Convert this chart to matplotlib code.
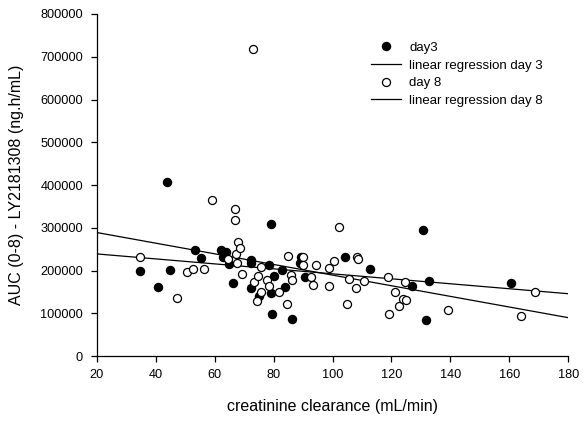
import matplotlib
matplotlib.use("Agg")
import matplotlib.pyplot as plt
from matplotlib.ticker import FuncFormatter

plt.rcParams['font.family'] = ['Liberation Sans', 'DejaVu Sans']

# day 3 data (creatinine clearance, AUC in ng.h/mL)
x_day3 = [34.6, 40.6, 43.7, 44.8, 53.2, 55.4, 62.0, 62.7, 63.8, 64.7, 66.1,
          72.2, 72.4, 72.2, 75.0, 78.5, 79.1, 80.1, 79.1, 79.4, 82.8, 83.9,
          86.2, 89.0, 89.2, 90.7, 104.2, 112.8, 127.1, 130.7, 131.6, 132.9, 160.7]
y_day3 = [200000, 161000, 407000, 201000, 249000, 229000, 249000, 231000, 244000,
          215000, 171000, 217000, 225000, 160000, 140000, 212000, 309000, 187000,
          148000, 98000, 201000, 162000, 87000, 217000, 231000, 184000, 232000,
          204000, 164000, 294000, 84000, 175000, 172000]

# day 8 data
x_day8 = [34.6, 47.1, 50.5, 52.5, 56.2, 59.1, 64.4, 66.9, 67.0, 67.2, 67.6, 67.9,
          68.7, 69.3, 73.1, 73.3, 74.5, 74.7, 75.6, 75.7, 77.8, 78.5, 81.7, 84.5,
          84.8, 86.0, 86.2, 89.9, 89.9, 92.7, 93.5, 94.4, 98.7, 98.9, 100.5, 102.2,
          104.9, 105.7, 108.1, 108.4, 108.6, 110.8, 118.8, 119.3, 121.3, 122.6,
          123.8, 124.5, 125.0, 139.1, 163.9, 168.7]
y_day8 = [231000, 135000, 196000, 203000, 203000, 364000, 228000, 343000, 318000,
          240000, 218000, 267000, 254000, 191000, 718000, 174000, 129000, 187000,
          209000, 150000, 178000, 164000, 150000, 121000, 235000, 189000, 178000,
          231000, 214000, 185000, 167000, 213000, 206000, 164000, 223000, 303000,
          122000, 180000, 160000, 232000, 228000, 175000, 185000, 99000, 150000,
          118000, 133000, 174000, 132000, 108000, 94000, 150000]

# regression line end points
reg3_x = [20, 180]
reg3_y = [239000, 146000]
reg8_x = [20, 180]
reg8_y = [289000, 90000]

x_ticks = [20, 40, 60, 80, 100, 120, 140, 160, 180]
y_ticks = [0, 100000, 200000, 300000, 400000, 500000, 600000, 700000, 800000]

fig = plt.figure(figsize=(5.84, 4.24), dpi=100)
ax = fig.add_axes([0.166, 0.160, 0.807, 0.807])

ms = 5.8
ax.plot(x_day3, y_day3, 'o', color='black', markersize=ms, linestyle='none',
        label='day3', zorder=3)
ax.plot(reg3_x, reg3_y, '-', color='black', linewidth=0.9,
        label='linear regression day 3', zorder=2)
ax.plot(x_day8, y_day8, 'o', markerfacecolor='white', markeredgecolor='black',
        markeredgewidth=0.9, markersize=ms, linestyle='none', label='day 8', zorder=4)
ax.plot(reg8_x, reg8_y, '-', color='black', linewidth=0.9,
        label='linear regression day 8', zorder=2)

ax.set_xlim(20, 180)
ax.set_ylim(0, 800000)
ax.set_xticks(x_ticks)
ax.set_yticks(y_ticks)
ax.yaxis.set_major_formatter(FuncFormatter(lambda v, p: f"{int(v)}"))
ax.spines['top'].set_visible(False)
ax.spines['right'].set_visible(False)
for s in ('left', 'bottom'):
    ax.spines[s].set_linewidth(0.9)
ax.tick_params(direction='out', length=4, width=0.9, labelsize=9.2)
ax.tick_params(axis='y', pad=6)
ax.tick_params(axis='x', pad=5)

ax.set_xlabel('creatinine clearance (mL/min)', fontsize=11.5, labelpad=13)
ax.set_ylabel('AUC (0-8) - LY2181308 (ng.h/mL)', fontsize=11.5, labelpad=12)

leg = ax.legend(loc='upper left', bbox_to_anchor=(0.57, 0.935), frameon=False,
                fontsize=9.5, handlelength=2.3, handletextpad=0.6,
                labelspacing=0.42, borderaxespad=0)

fig.savefig('out.png', dpi=100)
